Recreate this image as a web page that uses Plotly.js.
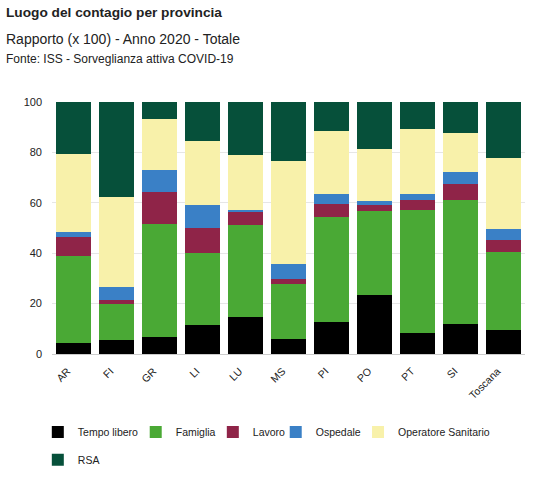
<!DOCTYPE html>
<html>
<head>
<meta charset="utf-8">
<script src="https://cdn.plot.ly/plotly-3.0.1.min.js"></script>
<style>
  html, body { margin: 0; padding: 0; background: #ffffff; }
  #chart { width: 540px; height: 500px; }
</style>
</head>
<body>
<div id="chart"></div>
<script>
const categories = ["AR", "FI", "GR", "LI", "LU", "MS", "PI", "PO", "PT", "SI", "Toscana"];
const tempoLibero = [4.4, 5.4, 6.6, 11.6, 14.8, 5.9, 12.7, 23.6, 8.4, 12.0, 9.5];
const famiglia = [34.6, 14.3, 45.1, 28.5, 36.4, 21.9, 41.8, 33.3, 48.6, 49.3, 31.0];
const lavoro = [7.3, 1.8, 12.4, 9.9, 5.4, 2.1, 5.0, 2.1, 4.1, 6.0, 4.6];
const ospedale = [2.1, 4.9, 8.9, 9.2, 0.5, 6.0, 4.1, 1.7, 2.2, 4.9, 4.4];
const operatoreSanitario = [31.0, 36.0, 20.3, 25.2, 21.7, 40.6, 24.8, 20.8, 26.1, 15.5, 28.1];
const rsa = [20.6, 37.6, 6.7, 15.6, 21.2, 23.5, 11.6, 18.5, 10.6, 12.3, 22.4];
const seriesNames = ["Tempo libero", "Famiglia", "Lavoro", "Ospedale", "Operatore Sanitario", "RSA"];
const yTicks = [0, 20, 40, 60, 80, 100];

const seriesValues = [tempoLibero, famiglia, lavoro, ospedale, operatoreSanitario, rsa];
const colors = ["#000000", "#4aa935", "#8f2448", "#3a80c6", "#f8f1aa", "#06503a"];
// one legend per entry so each item sits where the reference puts it
const legendIds = ["legend", "legend2", "legend3", "legend4", "legend5", "legend6"];
const legendX = [-0.03, 0.177, 0.34, 0.473, 0.647, -0.03];
const legendY = [-0.31, -0.31, -0.31, -0.31, -0.31, -0.42];

const traces = seriesValues.map((vals, i) => ({
  type: "bar",
  name: seriesNames[i],
  x: categories,
  y: vals,
  marker: { color: colors[i], line: { width: 0 } },
  legend: legendIds[i],
  hoverinfo: "x+y+name"
}));

const fontFam = "Liberation Sans, Arial, Helvetica, sans-serif";

const layout = {
  width: 540,
  height: 500,
  margin: { l: 52, r: 15, t: 102, b: 146 },
  paper_bgcolor: "#ffffff",
  plot_bgcolor: "#ffffff",
  barmode: "stack",
  bargap: 0.19,
  font: { family: fontFam, size: 11, color: "#222" },
  showlegend: true,
  xaxis: {
    type: "category",
    tickangle: -45,
    showgrid: false,
    showline: true,
    linecolor: "#cccccc",
    linewidth: 1,
    ticks: "",
    ticklabelstandoff: 6,
    ticklabelshift: -6,
    tickfont: { family: fontFam, size: 10.5, color: "#222" },
    fixedrange: true
  },
  yaxis: {
    range: [0, 100],
    tickvals: yTicks,
    ticktext: yTicks.map(String),
    showgrid: true,
    gridcolor: "#e6e6e6",
    gridwidth: 1,
    zeroline: false,
    showline: false,
    ticks: "",
    ticklabelstandoff: 9,
    tickfont: { family: fontFam, size: 11, color: "#222" },
    fixedrange: true
  },
  annotations: [
    {
      text: "<b>Luogo del contagio per provincia</b>",
      xref: "paper", yref: "paper", x: -0.102, y: 1.355,
      xanchor: "left", yanchor: "middle", showarrow: false,
      font: { family: fontFam, size: 13.7, color: "#222" }
    },
    {
      text: "Rapporto (x 100) - Anno 2020 - Totale",
      xref: "paper", yref: "paper", x: -0.102, y: 1.25,
      xanchor: "left", yanchor: "middle", showarrow: false,
      font: { family: fontFam, size: 14, color: "#222" }
    },
    {
      text: "Fonte: ISS - Sorveglianza attiva COVID-19",
      xref: "paper", yref: "paper", x: -0.102, y: 1.17,
      xanchor: "left", yanchor: "middle", showarrow: false,
      font: { family: fontFam, size: 12, color: "#222" }
    }
  ]
};

legendIds.forEach((id, i) => {
  layout[id] = {
    orientation: "h",
    x: legendX[i],
    y: legendY[i],
    xanchor: "left",
    yanchor: "middle",
    font: { family: fontFam, size: 10.5, color: "#222" },
    bgcolor: "rgba(0,0,0,0)",
    itemclick: false,
    itemdoubleclick: false
  };
});

Plotly.newPlot("chart", traces, layout, { displayModeBar: false });
</script>
</body>
</html>
